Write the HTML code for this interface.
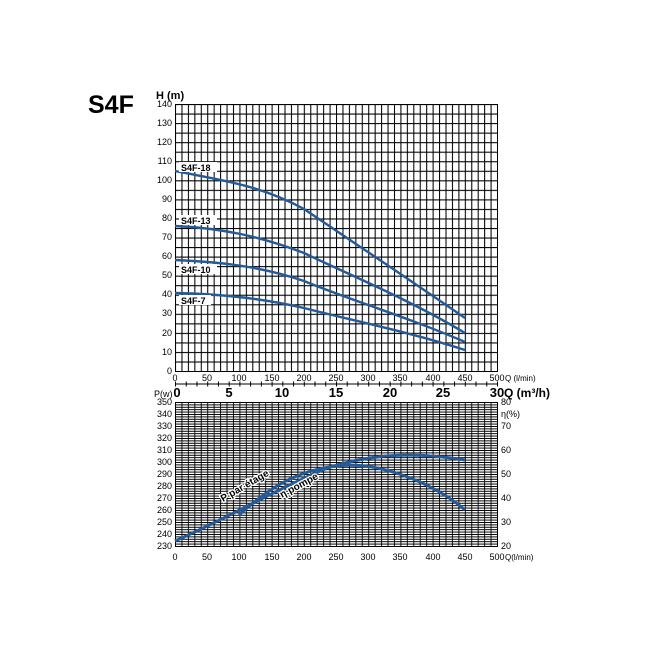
<!DOCTYPE html>
<html><head><meta charset="utf-8"><style>
html,body{margin:0;padding:0;background:#fff}
svg{display:block;font-family:"Liberation Sans",Arial,sans-serif}
</style></head><body>
<svg width="650" height="650" viewBox="0 0 650 650" xmlns="http://www.w3.org/2000/svg">
<defs>
<pattern id="gt" x="175" y="104" width="6.44" height="9.536" patternUnits="userSpaceOnUse">
<path d="M0.5 0V9.536M0 0.5H6.44" stroke="#000" stroke-width="1.1" fill="none"/>
</pattern>
<pattern id="gb" x="175" y="402" width="6.44" height="2.4" patternUnits="userSpaceOnUse">
<path d="M0.5 0V2.4M0 0.5H6.44" stroke="#000" stroke-width="0.9" fill="none"/>
</pattern>
<pattern id="tk" x="175" y="380" width="10.733" height="8" patternUnits="userSpaceOnUse">
<path d="M0.5 1.5V6.5" stroke="#000" stroke-width="1" fill="none"/>
</pattern>
</defs>
<text x="88" y="113" font-size="25" font-weight="bold">S4F</text>
<text x="156" y="99" font-size="11" font-weight="bold">H (m)</text>
<rect x="175" y="104" width="322" height="267" fill="url(#gt)"/>
<rect x="175.5" y="104.5" width="322" height="267" fill="none" stroke="#000" stroke-width="1"/>
<g font-size="9" text-anchor="end">
<text x="172" y="107">140</text><text x="172" y="126">130</text><text x="172" y="145">120</text><text x="172" y="164">110</text><text x="172" y="183">100</text><text x="172" y="202">90</text><text x="172" y="221">80</text><text x="172" y="240">70</text><text x="172" y="259">60</text><text x="172" y="278">50</text><text x="172" y="297">40</text><text x="172" y="316">30</text><text x="172" y="336">20</text><text x="172" y="355">10</text><text x="172" y="374">0</text>
</g>
<g font-size="9" text-anchor="middle">
<text x="175" y="381">0</text><text x="207" y="381">50</text><text x="239" y="381">100</text><text x="272" y="381">150</text><text x="304" y="381">200</text><text x="336" y="381">250</text><text x="368" y="381">300</text><text x="400" y="381">350</text><text x="433" y="381">400</text><text x="465" y="381">450</text><text x="497" y="381">500</text>
</g>
<text x="505" y="381" font-size="8">Q (l/min)</text>
<line x1="175" y1="384" x2="497" y2="384" stroke="#000"/>
<rect x="175" y="380" width="324" height="8" fill="url(#tk)"/>
<g font-size="13" font-weight="bold" text-anchor="middle">
<text x="177" y="397">0</text><text x="229" y="397">5</text><text x="282" y="397">10</text><text x="336" y="397">15</text><text x="390" y="397">20</text><text x="443" y="397">25</text><text x="497" y="397">30</text>
</g>
<text x="504" y="397" font-size="12" font-weight="bold">Q (m³/h)</text>
<g fill="none" stroke="#245a98" stroke-width="2.4">
<path d="M175 171 C220 180 260 185 304 209 C350 240 410 280 465 318"/>
<path d="M175 226 C220 228 260 236 304 253 C350 275 410 300 465 333"/>
<path d="M175 260 C220 262 260 266 304 281 C350 300 410 318 465 342"/>
<path d="M175 293 C220 294 260 298 304 308 C350 320 410 332 465 350"/>
</g>
<g font-size="9" font-weight="bold">
<rect x="179" y="162" width="38" height="10" fill="#fff"/><text x="181" y="171">S4F-18</text>
<rect x="179" y="215" width="38" height="10" fill="#fff"/><text x="181" y="224">S4F-13</text>
<rect x="179" y="264" width="38" height="10" fill="#fff"/><text x="181" y="273">S4F-10</text>
<rect x="179" y="295" width="32" height="10" fill="#fff"/><text x="181" y="304">S4F-7</text>
</g>
<text x="154" y="397" font-size="9">P(w)</text>
<rect x="175" y="402" width="322" height="144" fill="url(#gb)"/>
<rect x="175.5" y="402.5" width="322" height="144" fill="none" stroke="#000"/>
<g font-size="9" text-anchor="end">
<text x="172" y="405">350</text><text x="172" y="417">340</text><text x="172" y="429">330</text><text x="172" y="441">320</text><text x="172" y="453">310</text><text x="172" y="465">300</text><text x="172" y="477">290</text><text x="172" y="489">280</text><text x="172" y="501">270</text><text x="172" y="513">260</text><text x="172" y="525">250</text><text x="172" y="537">240</text><text x="172" y="549">230</text>
</g>
<g font-size="9">
<text x="501" y="405">80</text><text x="501" y="417">η(%)</text><text x="501" y="429">70</text><text x="501" y="453">60</text><text x="501" y="477">50</text><text x="501" y="501">40</text><text x="501" y="525">30</text><text x="501" y="549">20</text>
</g>
<g font-size="9" text-anchor="middle">
<text x="175" y="560">0</text><text x="207" y="560">50</text><text x="239" y="560">100</text><text x="272" y="560">150</text><text x="304" y="560">200</text><text x="336" y="560">250</text><text x="368" y="560">300</text><text x="400" y="560">350</text><text x="433" y="560">400</text><text x="465" y="560">450</text><text x="497" y="560">500</text>
</g>
<text x="505" y="560" font-size="8">Q(l/min)</text>
<g fill="none" stroke="#245a98" stroke-width="3">
<path d="M175 541 C230 517 280 487 330 467 C370 455 410 451 465 460"/>
<path d="M239 515 C270 487 300 467 350 465 C380 465 430 480 465 510"/>
</g>
<g font-size="10" font-weight="bold" fill="#000" stroke="#fff" stroke-width="2.5" paint-order="stroke">
<text transform="translate(223,502) rotate(-30)">P par étage</text>
<text transform="translate(282,498) rotate(-28)">η pompe</text>
</g>
</svg>
</body></html>
